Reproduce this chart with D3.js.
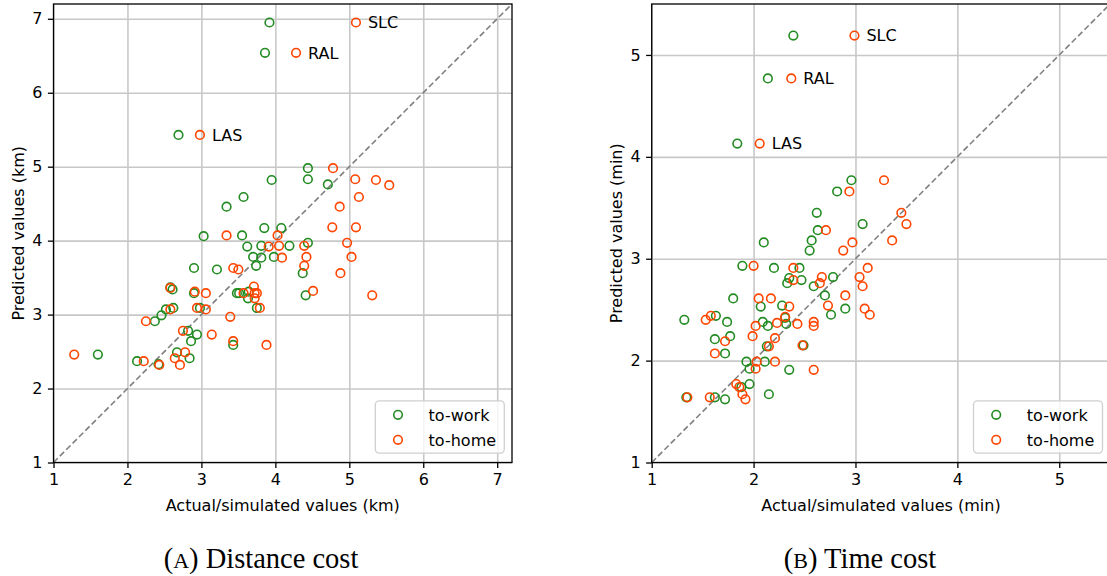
<!DOCTYPE html>
<html>
<head>
<meta charset="utf-8">
<script src="https://cdn.jsdelivr.net/npm/d3@7"></script>
<style>
  html, body { margin: 0; padding: 0; background: #fff; }
  svg { display: block; }
  text { font-family: "DejaVu Sans", sans-serif; fill: #000; }
</style>
</head>
<body>
<svg id="chart" width="1107" height="576"></svg>
<script>
// Labelled cities come first in every series array
const cityLabels = ["LAS", "RAL", "SLC"];

// (A) Distance cost, km
const distWorkActual = [2.69, 3.86, 3.92, 4.44, 4.44, 3.95, 4.71, 3.57, 3.34, 3.03, 3.85, 4.08, 3.55, 3.62, 3.81, 4.19, 4.44, 3.70, 3.81, 3.98, 3.74, 2.90, 3.21, 4.37, 4.41, 2.58, 2.61, 2.90, 3.48, 3.51, 3.63, 3.64, 3.75, 2.98, 2.62, 2.52, 2.46, 2.37, 2.82, 2.94, 2.86, 3.43, 2.67, 2.84, 2.42, 2.13, 1.60];
const distWorkPred   = [5.43, 6.54, 6.95, 4.98, 4.83, 4.82, 4.76, 4.59, 4.46, 4.06, 4.17, 4.17, 4.07, 3.92, 3.93, 3.93, 3.97, 3.78, 3.77, 3.78, 3.66, 3.63, 3.61, 3.56, 3.26, 3.37, 3.34, 3.29, 3.29, 3.29, 3.22, 3.31, 3.09, 3.09, 3.09, 3.07, 2.99, 2.91, 2.78, 2.73, 2.64, 2.59, 2.49, 2.41, 2.33, 2.37, 2.46];
const distHomeActual = [2.98, 4.28, 5.09, 4.78, 5.08, 5.36, 5.54, 5.13, 4.87, 4.77, 5.09, 3.34, 4.03, 3.91, 4.05, 4.39, 4.97, 4.09, 4.42, 5.03, 4.39, 3.43, 3.50, 4.88, 4.51, 5.31, 2.58, 2.91, 3.06, 3.71, 3.72, 3.75, 3.72, 3.57, 2.94, 3.06, 2.58, 3.79, 3.39, 2.25, 2.75, 3.14, 3.43, 3.88, 2.78, 2.64, 2.71, 2.22, 2.43, 1.28];
const distHomePred   = [5.43, 6.54, 6.95, 4.98, 4.83, 4.82, 4.75, 4.59, 4.46, 4.18, 4.18, 4.07, 4.07, 3.92, 3.93, 3.93, 3.97, 3.77, 3.78, 3.78, 3.66, 3.63, 3.61, 3.56, 3.32, 3.26, 3.36, 3.31, 3.29, 3.38, 3.29, 3.29, 3.22, 3.29, 3.09, 3.07, 3.07, 3.09, 2.97, 2.91, 2.78, 2.73, 2.64, 2.59, 2.49, 2.41, 2.32, 2.37, 2.32, 2.46];

// (B) Time cost, min
const timeWorkActual = [1.84, 2.14, 2.39, 2.96, 2.82, 2.62, 3.07, 2.63, 2.57, 2.55, 2.10, 1.89, 2.20, 2.45, 2.35, 2.33, 2.47, 2.59, 2.78, 2.70, 2.90, 2.76, 1.80, 2.07, 2.28, 2.31, 2.32, 2.09, 2.14, 1.32, 1.63, 1.74, 1.62, 1.77, 1.72, 2.13, 2.49, 1.93, 1.96, 2.11, 2.35, 1.96, 1.88, 2.15, 1.72, 1.34, 1.62];
const timeWorkPred   = [4.13, 4.77, 5.19, 3.77, 3.66, 3.45, 3.34, 3.28, 3.18, 3.08, 3.16, 2.93, 2.91, 2.91, 2.81, 2.76, 2.79, 2.73, 2.82, 2.64, 2.51, 2.45, 2.61, 2.53, 2.54, 2.42, 2.36, 2.38, 2.34, 2.40, 2.44, 2.38, 2.21, 2.24, 2.07, 2.14, 2.15, 1.99, 1.92, 1.99, 1.91, 1.77, 1.74, 1.67, 1.62, 1.64, 1.64];
const timeHomeActual = [2.06, 2.37, 2.99, 3.28, 2.94, 3.45, 3.50, 2.71, 3.36, 2.97, 2.88, 2.00, 2.39, 2.39, 2.67, 2.65, 3.12, 3.04, 3.07, 2.90, 2.73, 3.09, 3.14, 2.05, 2.17, 2.35, 2.31, 2.23, 2.43, 2.59, 2.59, 2.02, 1.99, 1.53, 1.58, 1.72, 1.62, 2.21, 2.15, 2.48, 2.03, 2.21, 2.02, 2.59, 1.83, 1.86, 1.89, 1.92, 1.35, 1.57];
const timeHomePred   = [4.13, 4.77, 5.19, 3.77, 3.66, 3.45, 3.34, 3.28, 3.18, 3.16, 3.08, 2.93, 2.91, 2.79, 2.82, 2.76, 2.91, 2.82, 2.73, 2.64, 2.54, 2.51, 2.45, 2.61, 2.61, 2.53, 2.43, 2.37, 2.36, 2.38, 2.34, 2.34, 2.24, 2.40, 2.44, 2.19, 2.07, 2.22, 2.14, 2.15, 1.99, 1.99, 1.92, 1.91, 1.77, 1.74, 1.67, 1.62, 1.64, 1.64];

// Axis ranges and tick values
const distDomain = [1, 7.2];
const distTicks = [1, 2, 3, 4, 5, 6, 7];
const timeDomain = [1, 5.5];
const timeTicks = [1, 2, 3, 4, 5];

const seriesNames = ["to-work", "to-home"];
const seriesColors = ["#228b22", "#ff4500"];

const svg = d3.select("#chart");
const SIDE = 458.5;

function panel(opts) {
  const g = svg.append("g");
  const x = d3.scaleLinear().domain(opts.domain).range([opts.left, opts.left + SIDE]);
  const y = d3.scaleLinear().domain(opts.domain).range([opts.top + SIDE, opts.top]);
  const bottom = opts.top + SIDE, right = opts.left + SIDE;

  // grid
  g.append("g").attr("transform", `translate(0,${bottom})`)
    .call(d3.axisBottom(x).tickValues(opts.ticks).tickSize(-SIDE).tickFormat(""))
    .call(a => a.select(".domain").remove())
    .call(a => a.selectAll("line").attr("stroke", "#c8c8c8").attr("stroke-width", 1.6));
  g.append("g").attr("transform", `translate(${opts.left},0)`)
    .call(d3.axisLeft(y).tickValues(opts.ticks).tickSize(-SIDE).tickFormat(""))
    .call(a => a.select(".domain").remove())
    .call(a => a.selectAll("line").attr("stroke", "#c8c8c8").attr("stroke-width", 1.6));

  // identity line
  g.append("line")
    .attr("x1", x(opts.domain[0])).attr("y1", y(opts.domain[0]))
    .attr("x2", x(opts.domain[1])).attr("y2", y(opts.domain[1]))
    .attr("stroke", "#808080").attr("stroke-width", 1.6).attr("stroke-dasharray", "6,3");

  // scatter series
  opts.series.forEach((s, k) => {
    g.append("g").selectAll("circle")
      .data(d3.zip(s[0], s[1]))
      .join("circle")
      .attr("cx", d => x(d[0])).attr("cy", d => y(d[1]))
      .attr("r", 4.3)
      .attr("fill", "none")
      .attr("stroke", seriesColors[k])
      .attr("stroke-width", 1.6);
  });

  // city labels next to the to-home markers
  const home = opts.series[1];
  g.append("g").selectAll("text")
    .data(cityLabels)
    .join("text")
    .attr("x", (d, i) => x(home[0][i]) + 12)
    .attr("y", (d, i) => y(home[1][i]))
    .attr("dy", "0.36em")
    .attr("font-size", 16)
    .text(d => d);

  // frame
  g.append("rect")
    .attr("x", opts.left).attr("y", opts.top)
    .attr("width", SIDE).attr("height", SIDE)
    .attr("fill", "none").attr("stroke", "#000").attr("stroke-width", 1.3);

  // axes
  const ax = g.append("g").attr("transform", `translate(0,${bottom})`)
    .call(d3.axisBottom(x).tickValues(opts.ticks).tickSize(5.6).tickPadding(5.4).tickFormat(d3.format("d")));
  const ay = g.append("g").attr("transform", `translate(${opts.left},0)`)
    .call(d3.axisLeft(y).tickValues(opts.ticks).tickSize(5.6).tickPadding(5.4).tickFormat(d3.format("d")));
  [ax, ay].forEach(a => {
    a.select(".domain").remove();
    a.selectAll("line").attr("stroke", "#000").attr("stroke-width", 1.3);
    a.selectAll("text").attr("font-size", 16).attr("font-family", "DejaVu Sans").attr("fill", "#000");
  });

  // axis titles
  g.append("text")
    .attr("x", opts.left + SIDE / 2).attr("y", 511)
    .attr("text-anchor", "middle").attr("font-size", 16)
    .text(opts.xTitle);
  g.append("text")
    .attr("transform", `translate(${opts.left - 30},${opts.top + SIDE / 2}) rotate(-90)`)
    .attr("text-anchor", "middle").attr("font-size", 16)
    .text(opts.yTitle);

  // legend
  const lw = 129, lh = 52.3;
  const lx = right - 7.7 - lw, ly = bottom - 9.4 - lh;
  const lg = g.append("g");
  lg.append("rect")
    .attr("x", lx).attr("y", ly).attr("width", lw).attr("height", lh)
    .attr("rx", 4).attr("fill", "#fff").attr("fill-opacity", 0.8)
    .attr("stroke", "#d0d0d0").attr("stroke-width", 1.3);
  seriesNames.forEach((name, k) => {
    const cy = ly + 14 + k * 25;
    lg.append("circle").attr("cx", lx + 22.7).attr("cy", cy).attr("r", 4.3)
      .attr("fill", "none").attr("stroke", seriesColors[k]).attr("stroke-width", 1.6);
    lg.append("text").attr("x", lx + 53.3).attr("y", cy).attr("dy", "0.36em")
      .attr("font-size", 16).text(name);
  });

  // caption
  const cap = svg.append("text")
    .attr("x", opts.captionX).attr("y", 568)
    .attr("text-anchor", "middle")
    .style("font-family", "'Liberation Serif', 'Times New Roman', serif")
    .attr("font-size", 28.5);
  cap.append("tspan").text("(");
  cap.append("tspan").attr("font-size", 22).text(opts.captionLetter);
  cap.append("tspan").text(") " + opts.captionText);
}

panel({
  left: 53.5, top: 4, domain: distDomain, ticks: distTicks,
  series: [[distWorkActual, distWorkPred], [distHomeActual, distHomePred]],
  xTitle: "Actual/simulated values (km)", yTitle: "Predicted values (km)",
  captionX: 261, captionLetter: "A", captionText: "Distance cost"
});
panel({
  left: 651.7, top: 4, domain: timeDomain, ticks: timeTicks,
  series: [[timeWorkActual, timeWorkPred], [timeHomeActual, timeHomePred]],
  xTitle: "Actual/simulated values (min)", yTitle: "Predicted values (min)",
  captionX: 860, captionLetter: "B", captionText: "Time cost"
});
</script>
</body>
</html>
